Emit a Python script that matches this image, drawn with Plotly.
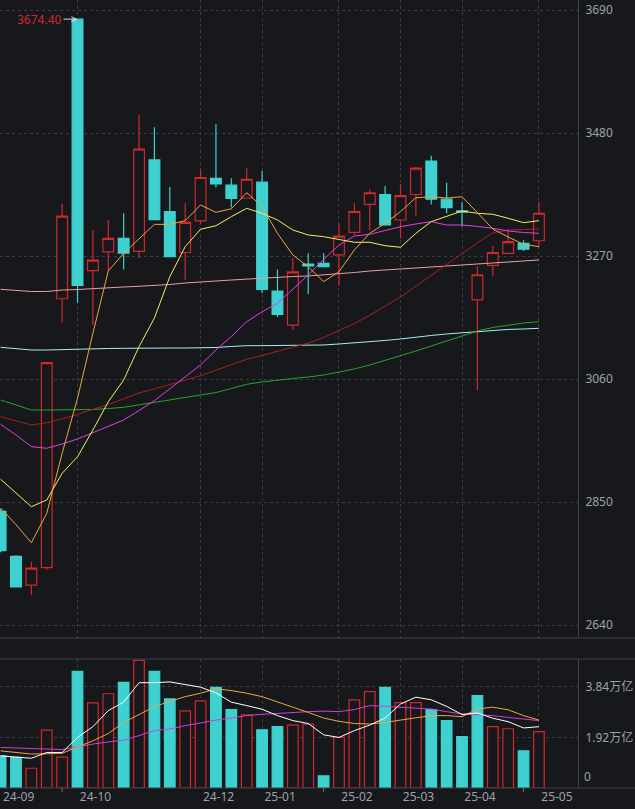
import plotly.graph_objects as go

# ---------------- data (weekly) ----------------
weeks = list(range(36))  # 2024-09-02 ... 2025-05-06 (weekly candles)

open_ = [2834, 2757, 2708, 2738, 3197, 3674.4, 3245, 3277, 3300, 3278, 3434, 3346,
         3276, 3330, 3402.6, 3391, 3369, 3396, 3210, 3152, 3256, 3257.5, 3272, 3310.5,
         3358, 3375, 3331.5, 3375, 3432, 3367, 3347, 3195, 3254, 3274.6, 3291.7, 3296]
high = [2838, 2759, 2748, 3088, 3359, 3674.4, 3314, 3331.5, 3343, 3511, 3490, 3388,
        3360, 3418, 3495, 3402.6, 3420, 3415, 3247, 3266.6, 3274.6, 3274.6, 3326, 3360,
        3384, 3389.5, 3392.4, 3422.5, 3441, 3395, 3362, 3252, 3287, 3315.6, 3297, 3362]
low = [2764, 2704, 2691, 2734, 3156, 3190, 3152, 3245, 3247, 3266, 3331.5, 3269,
       3229, 3325, 3387, 3353, 3368, 3207, 3166, 3144, 3205, 3251, 3219, 3306,
       3314, 3322, 3300, 3339, 3358, 3343, 3320, 3041, 3235, 3274, 3278.5, 3285]
close = [2767, 2705, 2737, 3088, 3338, 3220, 3263, 3300, 3275, 3452.7, 3332, 3269,
         3327.5, 3404, 3393, 3368.5, 3401, 3213, 3170.5, 3243, 3253, 3252, 3304, 3346,
         3378, 3323, 3373, 3420, 3367, 3352.5, 3345, 3238, 3276, 3294.4, 3281.5, 3343]

ma5 = [2839.8, 2811.3, 2780.5, 2830.7, 2933.1, 3027.1, 3138.1, 3244.4, 3274.6, 3299.9,
       3324.0, 3324.0, 3330.3, 3357.1, 3344.6, 3350.6, 3378.1, 3354.2, 3308.8, 3271.7,
       3251.7, 3226.1, 3243.2, 3280.3, 3308.8, 3325.5, 3346.0, 3369.5, 3371.2, 3369.0,
       3371.2, 3344.0, 3316.1, 3302.5, 3290.0, 3285.9]
ma10 = [2888.8, 2866.2, 2842.0, 2853.4, 2899.0, 2927.3, 2972.9, 3021.2, 3058.3, 3115.2,
        3164.1, 3234.7, 3285.9, 3315.6, 3321.7, 3337.1, 3351.4, 3342.9, 3331.5, 3314.4,
        3305.9, 3303.0, 3298.5, 3293.4, 3293.4, 3287.6, 3284.9, 3308.8, 3328.6, 3337.1,
        3346.8, 3342.9, 3341.2, 3334.4, 3326.9, 3330.3]
ma20 = [2982.7, 2964.4, 2944.5, 2941.7, 2949.0, 2957.6, 2968.3, 2978.9, 2990.0, 3006.2,
        3023.0, 3043.3, 3063.4, 3083.9, 3109.5, 3132.6, 3157.8, 3174.9, 3189.2, 3213.0,
        3237.6, 3264.0, 3288.8, 3304.1, 3307.0, 3313.5, 3320.0, 3324.7, 3328.6, 3322.9,
        3322.9, 3320.4, 3317.3, 3312.7, 3310.1, 3308.8]
ma30 = [2995.6, 2988.3, 2981.5, 2985.4, 2991.7, 2999.6, 3007.9, 3016.6, 3026.0, 3036.1,
        3043.1, 3050.6, 3057.4, 3065.5, 3075.0, 3084.1, 3093.6, 3100.3, 3107.1, 3114.3,
        3121.1, 3130.9, 3142.8, 3154.6, 3168.9, 3184.0, 3200.0, 3218.3, 3236.7, 3256.3,
        3274.3, 3292.7, 3309.3, 3314.4, 3315.2, 3316.1]
ma60 = [3024.1, 3015.6, 3007.1, 3007.1, 3007.1, 3007.1, 3007.9, 3009.6, 3011.7, 3015.9,
        3019.9, 3024.5, 3028.8, 3031.8, 3036.9, 3043.8, 3050.9, 3054.9, 3058.3, 3060.8,
        3063.4, 3066.8, 3071.9, 3077.1, 3083.9, 3091.6, 3099.3, 3107.8, 3116.3, 3124.9,
        3132.6, 3141.9, 3147.9, 3152.2, 3155.6, 3157.8]
ma120 = [3114.1, 3111.2, 3109.5, 3109.5, 3110.4, 3111.2, 3111.7, 3112.1, 3112.4, 3112.9,
         3112.9, 3112.9, 3112.9, 3112.9, 3113.8, 3115.5, 3116.9, 3116.9, 3116.9, 3116.9,
         3117.2, 3118.1, 3119.8, 3121.5, 3124.0, 3125.8, 3128.3, 3131.7, 3134.3, 3136.9,
         3139.1, 3141.1, 3142.8, 3144.6, 3145.4, 3146.6]
ma250 = [3213.1, 3211.1, 3209.4, 3209.4, 3211.9, 3212.8, 3214.5, 3215.4, 3217.1, 3218.3,
         3219.6, 3221.3, 3223.9, 3226.1, 3227.3, 3229.0, 3230.7, 3232.9, 3234.1, 3235.0,
         3235.9, 3237.6, 3239.3, 3241.8, 3244.4, 3246.1, 3247.8, 3249.0, 3251.2, 3252.9,
         3253.8, 3256.3, 3258.0, 3259.8, 3261.5, 3263.2]

# turnover, 万亿
volume = [1.22, 1.16, 0.75, 2.20, 1.17, 4.43, 3.23, 3.58, 4.01, 4.85, 4.43, 3.39,
          2.93, 3.31, 3.82, 2.98, 2.78, 2.21, 2.33, 2.39, 2.43, 0.46, 1.92, 3.35,
          3.66, 3.82, 3.24, 3.24, 2.98, 2.56, 1.95, 3.51, 2.33, 2.25, 1.41, 2.14]
vol_ma5 = [1.22, 1.18, 1.13, 1.35, 1.35, 1.92, 2.33, 2.94, 3.26, 4.00, 4.00, 4.03,
           3.92, 3.83, 3.61, 3.26, 3.13, 2.99, 2.75, 2.56, 2.45, 2.02, 1.92, 2.18,
           2.39, 2.66, 3.19, 3.45, 3.35, 3.10, 2.79, 2.85, 2.65, 2.52, 2.28, 2.33]
vol_ma10 = [1.41, 1.35, 1.29, 1.30, 1.32, 1.56, 1.79, 2.07, 2.49, 2.79, 3.09, 3.29,
            3.47, 3.60, 3.77, 3.70, 3.60, 3.47, 3.26, 3.07, 2.87, 2.66, 2.53, 2.45,
            2.43, 2.49, 2.58, 2.66, 2.75, 2.75, 2.71, 3.00, 3.07, 2.97, 2.75, 2.58]
vol_ma20 = [1.54, 1.52, 1.50, 1.48, 1.46, 1.56, 1.67, 1.75, 1.82, 1.99, 2.18, 2.24,
            2.37, 2.47, 2.58, 2.66, 2.75, 2.80, 2.84, 2.87, 2.90, 2.92, 2.90, 2.98,
            3.13, 3.10, 3.07, 3.03, 3.00, 2.90, 2.81, 2.78, 2.75, 2.68, 2.62, 2.56]

month_idx = [0, 5, 13, 17, 22, 26, 30, 35]
month_labels = ["24-09", "24-10", "24-12", "25-01", "25-02", "25-03", "25-04", "25-05"]
holiday_idx = [4, 21, 34]
price_ticks = [2640, 2850, 3060, 3270, 3480, 3690]
vol_ticks = [1.92, 3.84]
vol_ticktext = ["1.92万亿", "3.84万亿"]
peak_label = "3674.40"

# ---------------- styles ----------------
BG = "#16181c"
RED = "#d0282e"
CYAN = "#3fd0d0"
GRID = "#3a3d42"
AXIS = "#3e4146"
TXT = "#9ea2a8"
FONT = "Noto Sans, Noto Sans CJK SC, sans-serif"

W, H = 635, 809
R_MARGIN, B_MARGIN = 57, 21
plot_h = H - B_MARGIN
main_bottom_px, vol_top_px = 638, 659
main_dom = [(plot_h - main_bottom_px) / plot_h, 1]
vol_dom = [0, (plot_h - vol_top_px) / plot_h]

fig = go.Figure()

fig.add_trace(go.Candlestick(
    x=weeks, open=open_, high=high, low=low, close=close,
    increasing=dict(line=dict(color=RED, width=1.2), fillcolor=BG),
    decreasing=dict(line=dict(color=CYAN, width=1.2), fillcolor=CYAN),
    xaxis="x", yaxis="y", showlegend=False, hoverinfo="skip",
))

for series, col in [(ma250, "#e8a0a0"), (ma120, "#a8eef0"), (ma60, "#2ea02e"),
                    (ma30, "#a82020"), (ma20, "#e040e0"), (ma10, "#f2f060"),
                    (ma5, "#eea640")]:
    fig.add_trace(go.Scatter(x=weeks, y=series, mode="lines",
                             line=dict(color=col, width=1),
                             xaxis="x", yaxis="y", showlegend=False, hoverinfo="skip"))

up = [False] + [close[i] >= close[i - 1] for i in range(1, len(close))]
fig.add_trace(go.Bar(
    x=weeks, y=volume, width=0.69,
    marker=dict(color=[BG if u else CYAN for u in up],
                line=dict(color=[RED if u else CYAN for u in up], width=1.2)),
    xaxis="x2", yaxis="y2", showlegend=False, hoverinfo="skip",
))
for series, col in [(vol_ma20, "#d040d8"), (vol_ma10, "#eea640"), (vol_ma5, "#ffffff")]:
    fig.add_trace(go.Scatter(x=weeks, y=series, mode="lines",
                             line=dict(color=col, width=1),
                             xaxis="x2", yaxis="y2", showlegend=False, hoverinfo="skip"))

xr = [-0.04, 37.54]
xcommon = dict(range=xr, tickmode="array", tickvals=month_idx, showgrid=True,
               gridcolor=GRID, griddash="dot", gridwidth=1, zeroline=False,
               showline=False, ticks="", fixedrange=True)

fig.update_layout(
    width=W, height=H,
    margin=dict(l=0, r=R_MARGIN, t=0, b=B_MARGIN, pad=0),
    paper_bgcolor=BG, plot_bgcolor=BG,
    font=dict(family=FONT, size=12, color=TXT),
    boxgap=0.3, boxgroupgap=0,
    bargap=0,
    xaxis=dict(domain=[0, 1], anchor="y", showticklabels=False,
               rangeslider=dict(visible=False), **xcommon),
    xaxis2=dict(domain=[0, 1], anchor="y2", showticklabels=True,
                ticktext=month_labels, ticklabelshift=18,
                tickfont=dict(size=12, color=TXT), **xcommon),
    yaxis=dict(domain=main_dom, side="right", range=[2617.8, 3707.07],
               tickmode="array", tickvals=price_ticks,
               showgrid=True, gridcolor=GRID, griddash="dot", zeroline=False,
               showline=True, linecolor=AXIS, ticks="", ticklabelstandoff=4,
               tickfont=dict(size=12, color=TXT)),
    yaxis2=dict(domain=vol_dom, side="right", range=[0, 4.9], anchor="x2",
                tickmode="array", tickvals=vol_ticks, ticktext=vol_ticktext,
                showgrid=True, gridcolor=GRID, griddash="dot", zeroline=False,
                showline=True, linecolor=AXIS, ticks="", ticklabelstandoff=4,
                tickfont=dict(size=12, color=TXT)),
    hovermode=False,
)

# separator lines spanning the whole width
x_right = W / (W - R_MARGIN)
for yp in [main_dom[0], vol_dom[1], 0]:
    fig.add_shape(type="line", xref="paper", yref="paper", x0=0, x1=x_right,
                  y0=yp, y1=yp, line=dict(color=AXIS, width=1))

# small holiday ticks under the volume panel
for hi in holiday_idx:
    fig.add_shape(type="line", xref="x2", yref="paper", x0=hi, x1=hi,
                  y0=0, y1=-4 / plot_h, line=dict(color="#6a6e74", width=1))

# "0" label of the volume panel (sits slightly above the baseline)
fig.add_annotation(xref="paper", yref="y2", x=1, y=0, text="0", showarrow=False,
                   xanchor="left", yanchor="bottom", xshift=4, yshift=1,
                   font=dict(size=12, color=TXT, family=FONT))

# highest price marker
pk = max(range(len(high)), key=lambda i: high[i])
fig.add_annotation(x=weeks[pk], y=high[pk], xref="x", yref="y", text=peak_label,
                   showarrow=True, arrowhead=5, arrowsize=1, arrowwidth=1,
                   arrowcolor="#d8d8d8", ax=-38, ay=0,
                   font=dict(size=12, color=RED, family=FONT))

fig.write_html("out.html",
               config={"displayModeBar": False, "staticPlot": True},
               post_script="document.body.style.margin='0';"
                           "document.body.style.background='" + BG + "';")
